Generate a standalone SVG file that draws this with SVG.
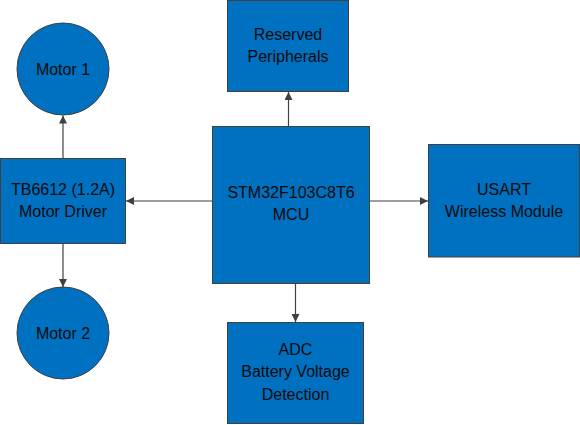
<svg xmlns="http://www.w3.org/2000/svg" width="580" height="425" viewBox="0 0 580 425">
<style>
.box{fill:#0070C0;stroke:#404040;stroke-width:1}
.lbl{font-family:"Liberation Sans",Arial,sans-serif;font-size:16px;fill:#0a0a0a;text-anchor:middle}
.conn{stroke:#404040;stroke-width:1.2;fill:none;marker-end:url(#ah)}
</style>
<defs>
<marker id="ah" viewBox="0 0 10 10" refX="10" refY="5" markerWidth="8" markerHeight="8" markerUnits="userSpaceOnUse" orient="auto">
<path d="M0,0 L10,5 L0,10 z" fill="#404040"/>
</marker>
</defs>
<rect width="580" height="425" fill="#ffffff"/>
<g id="connectors">
<line class="conn" x1="288.5" y1="126.5" x2="288.5" y2="92"/>
<line class="conn" x1="212.5" y1="201" x2="126" y2="201"/>
<line class="conn" x1="369.5" y1="201" x2="428" y2="201"/>
<line class="conn" x1="295.5" y1="283.5" x2="295.5" y2="322"/>
<line class="conn" x1="63" y1="158.5" x2="63" y2="115.5"/>
<line class="conn" x1="63" y1="243.5" x2="63" y2="287"/>
</g>
<g id="motor1">
<circle class="box" cx="63" cy="69" r="46"/>
<text class="lbl" x="63" y="75">Motor 1</text>
</g>
<g id="reserved">
<rect class="box" x="227.5" y="0.5" width="121" height="91"/>
<text class="lbl" x="288" y="40">Reserved</text>
<text class="lbl" x="288" y="62">Peripherals</text>
</g>
<g id="driver">
<rect class="box" x="0.5" y="158.5" width="125" height="85"/>
<text class="lbl" x="63" y="195">TB6612 (1.2A)</text>
<text class="lbl" x="63" y="217">Motor Driver</text>
</g>
<g id="mcu">
<rect class="box" x="212.5" y="126.5" width="157" height="157"/>
<text class="lbl" x="291" y="198">STM32F103C8T6</text>
<text class="lbl" x="291" y="220">MCU</text>
</g>
<g id="usart">
<rect class="box" x="428.5" y="144.5" width="151" height="112.5"/>
<text class="lbl" x="504" y="195">USART</text>
<text class="lbl" x="504" y="217">Wireless Module</text>
</g>
<g id="adc">
<rect class="box" x="227.5" y="322.5" width="136" height="101"/>
<text class="lbl" x="295.5" y="355">ADC</text>
<text class="lbl" x="295.5" y="377">Battery Voltage</text>
<text class="lbl" x="295.5" y="400">Detection</text>
</g>
<g id="motor2">
<circle class="box" cx="63" cy="333" r="46"/>
<text class="lbl" x="63" y="339">Motor 2</text>
</g>
</svg>
